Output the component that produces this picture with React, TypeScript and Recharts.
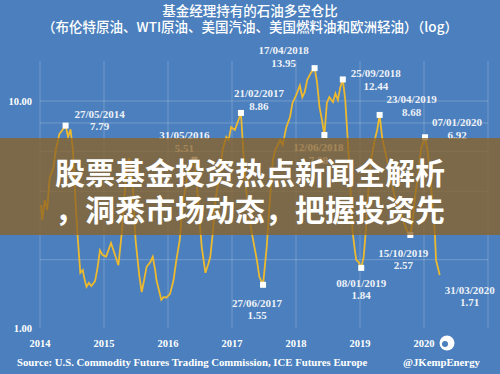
import React from 'react';
import { LineChart, Line, XAxis, YAxis, CartesianGrid, ReferenceLine } from 'recharts';

// weekly-ish readings of the managed money long/short ratio
const dates = [
  '2014-01-07', '2014-01-14', '2014-01-28', '2014-02-11', '2014-02-25', '2014-03-18', '2014-04-01', '2014-04-22',
  '2014-05-27', '2014-06-10', '2014-06-24', '2014-07-08', '2014-07-22', '2014-08-05', '2014-08-19', '2014-09-02',
  '2014-09-09', '2014-09-23', '2014-10-07', '2014-10-21', '2014-11-11', '2014-11-25', '2014-12-09', '2014-12-23',
  '2015-01-13', '2015-02-10', '2015-02-24', '2015-03-24', '2015-04-14', '2015-04-28', '2015-05-12', '2015-05-26',
  '2015-06-16', '2015-06-30', '2015-07-21', '2015-08-04', '2015-08-18', '2015-09-01', '2015-09-22', '2015-10-06',
  '2015-10-20', '2015-10-27', '2015-11-10', '2015-11-24', '2015-12-08', '2015-12-22', '2016-01-12', '2016-01-26',
  '2016-02-02', '2016-02-16', '2016-03-08', '2016-03-22', '2016-04-12', '2016-04-26', '2016-05-31', '2016-06-14',
  '2016-06-28', '2016-07-12', '2016-08-02', '2016-08-16', '2016-08-30', '2016-09-13', '2016-09-27', '2016-10-25',
  '2016-11-08', '2016-11-29', '2016-12-13', '2016-12-27', '2017-01-17', '2017-02-07', '2017-02-21', '2017-03-07',
  '2017-03-21', '2017-04-04', '2017-04-18', '2017-05-09', '2017-05-23', '2017-06-06', '2017-06-27', '2017-07-18',
  '2017-08-01', '2017-08-22', '2017-09-05', '2017-10-03', '2017-10-17', '2017-11-07', '2017-11-28', '2017-12-12',
  '2018-01-02', '2018-01-23', '2018-02-06', '2018-02-20', '2018-03-06', '2018-03-27', '2018-04-17', '2018-05-01',
  '2018-05-15', '2018-05-29', '2018-06-12', '2018-06-26', '2018-07-10', '2018-07-31', '2018-08-14', '2018-08-28',
  '2018-09-11', '2018-09-25', '2018-10-09', '2018-10-16', '2018-10-30', '2018-11-13', '2018-11-20', '2018-12-04',
  '2018-12-11', '2018-12-24', '2019-01-08', '2019-01-22', '2019-02-05', '2019-02-19', '2019-03-05', '2019-03-26',
  '2019-04-09', '2019-04-23', '2019-05-07', '2019-05-14', '2019-06-04', '2019-06-18', '2019-07-02', '2019-07-16',
  '2019-07-30', '2019-08-20', '2019-09-03', '2019-09-24', '2019-10-15', '2019-10-29', '2019-11-12', '2019-11-26',
  '2019-12-17', '2020-01-07', '2020-01-21', '2020-02-11', '2020-03-03', '2020-03-10', '2020-03-31',
];

const ratio = [
  3.48, 2.99, 3.66, 3.31, 4.58, 5.07, 6.08, 7.16,
  7.79, 6.94, 7.5, 6.08, 3.66, 2.44, 1.75, 1.8,
  1.68, 1.52, 1.58, 1.53, 1.61, 1.84, 2.2, 2.1,
  2.06, 2.37, 2.2, 1.89, 2.7, 3.85, 5.22, 5.6,
  4.05, 2.44, 1.71, 1.44, 1.63, 1.86, 1.95, 2.06,
  1.8, 1.63, 1.47, 1.33, 1.37, 1.36, 1.41, 1.55,
  1.63, 1.95, 2.44, 3.31, 4.27, 4.97, 5.51, 4.27,
  3.08, 2.27, 1.75, 1.89, 2.06, 2.62, 3.6, 5.0,
  6.08, 6.94, 6.73, 7.67, 7.45, 8.25, 8.86, 5.9,
  4.18, 3.31, 2.79, 2.27, 1.99, 1.68, 1.55, 2.27,
  3.31, 5.5, 6.08, 6.73, 6.4, 7.67, 8.5, 9.8,
  10.6, 11.7, 10.4, 10.96, 12.4, 13.3, 13.95, 12.1,
  9.41, 8.25, 7.08, 9.8, 10.4, 9.9, 10.8, 10.1,
  11.5, 12.44, 10.1, 8.25, 5.5, 3.41, 2.65, 2.16,
  1.99, 1.95, 1.84, 2.06, 2.79, 4.18, 5.5, 6.73,
  7.45, 8.68, 6.94, 6.52, 5.5, 4.97, 4.35, 3.85,
  3.55, 3.31, 2.99, 2.7, 2.57, 2.99, 3.85, 4.63,
  6.26, 6.92, 6.08, 4.18, 2.62, 1.99, 1.71,
];

const yearTicks = [2014, 2015, 2016, 2017, 2018, 2019, 2020];
const yTicks = [1, 10];
const gridValues = [2, 4, 6, 8, 10];

// annotated points: [dx, dy line1, dy line2] from the point to the label centre
const labelOffset: Record<string, number[]> = {
  '2014-05-27': [34, -12, 0],
  '2016-05-31': [-10, -25, -12],
  '2017-02-21': [18, -20, -7],
  '2017-06-27': [-6, 18, 30],
  '2018-04-17': [-31, -18, -5],
  '2018-06-12': [-6, 12, 25],
  '2018-09-25': [33, -6, 7],
  '2019-01-08': [0, 15, 27],
  '2019-04-23': [32, -16, -3],
  '2019-10-15': [-7, 18, 30],
  '2020-01-07': [32, -15, -2],
  '2020-03-31': [30, 15, 27],
};
const noSquare = ['2020-03-31'];

const toYear = (d: string) => {
  const [y, m, dd] = d.split('-').map(Number);
  const start = Date.UTC(y, 0, 1);
  const end = Date.UTC(y + 1, 0, 1);
  return y + (Date.UTC(y, m - 1, dd) - start) / (end - start);
};
const fmtDate = (d: string) => d.split('-').reverse().join('/');

const data = dates.map((d, i) => ({ date: d, t: toYear(d), v: ratio[i] }));

const BG = '#4b7fbd';
const GOLD = '#edb92e';
const SERIF = '"Liberation Serif", "Times New Roman", serif';
const CJK = '"Noto Sans CJK SC", "Noto Sans", sans-serif';

const labelStyle = { fill: '#eef2f8', fontFamily: SERIF, fontWeight: 700, fontSize: 11 };

const renderDot = (p: any) => {
  const d = p.payload.date;
  const off = labelOffset[d];
  if (!off) return <g key={p.index} />;
  const [dx, dy1, dy2] = off;
  return (
    <g key={p.index}>
      {!noSquare.includes(d) && (
        <rect x={p.cx - 3} y={p.cy - 3} width={6} height={6} fill="#ffffff" />
      )}
      <text x={p.cx + dx} y={p.cy + dy1} textAnchor="middle" dominantBaseline="central" {...labelStyle}>
        {fmtDate(d)}
      </text>
      <text x={p.cx + dx} y={p.cy + dy2} textAnchor="middle" dominantBaseline="central" {...labelStyle}>
        {p.payload.v.toFixed(2)}
      </text>
    </g>
  );
};

export default function App() {
  return (
    <div style={{ position: 'relative', width: 500, height: 374, background: BG, overflow: 'hidden' }}>
      <style>{'body{margin:0}'}</style>

      <div style={{ position: 'absolute', top: 1, left: 0, width: 500, textAlign: 'center', color: '#fff', fontFamily: CJK, fontWeight: 500, fontSize: 13.5, lineHeight: '18px' }}>
        基金经理持有的石油多空仓比
      </div>
      <div style={{ position: 'absolute', top: 17, left: 0, width: 500, textAlign: 'center', color: '#fff', fontFamily: CJK, fontWeight: 500, fontSize: 13.5, lineHeight: '18px' }}>
        （布伦特原油、WTI原油、美国汽油、美国燃料油和欧洲轻油）（log）
      </div>

      <LineChart
        width={500}
        height={374}
        data={data}
        margin={{ top: 61, right: 12, bottom: 0, left: 0 }}
        style={{ position: 'absolute', top: 0, left: 0 }}
      >
        <CartesianGrid horizontal={false} stroke="rgba(255,255,255,0.22)" strokeWidth={1} />
        {gridValues.map((g) => (
          <ReferenceLine key={g} y={g} stroke="rgba(255,255,255,0.22)" strokeWidth={1} />
        ))}
        <XAxis
          dataKey="t"
          type="number"
          domain={[2014, 2021]}
          ticks={yearTicks}
          tickFormatter={(v) => String(v)}
          axisLine={false}
          tickLine={false}
          tickMargin={6}
          height={46}
          tick={{ fill: '#ffffff', fontFamily: SERIF, fontWeight: 700, fontSize: 10.5 }}
        />
        <YAxis
          type="number"
          scale="log"
          domain={[1, 15]}
          ticks={yTicks}
          tickFormatter={(v) => Number(v).toFixed(2)}
          axisLine={false}
          tickLine={false}
          width={40}
          tick={{ fill: '#ffffff', fontFamily: SERIF, fontWeight: 700, fontSize: 10.5 }}
        />
        <Line
          dataKey="v"
          type="linear"
          stroke={GOLD}
          strokeWidth={1.8}
          dot={renderDot}
          activeDot={false}
          isAnimationActive={false}
        />
      </LineChart>

      {/* headline banner laid over the chart */}
      <div style={{ position: 'absolute', top: 138, left: 0, width: 500, height: 97, background: 'rgba(140,98,35,0.75)' }} />
      <div style={{ position: 'absolute', top: 153, left: 0, width: 500, textAlign: 'center', color: '#fff', fontFamily: CJK, fontWeight: 700, fontSize: 30, lineHeight: '37px' }}>
        股票基金投资热点新闻全解析<br />，洞悉市场动态，把握投资先
      </div>

      <div style={{ position: 'absolute', top: 355, left: 17, color: '#fff', fontFamily: SERIF, fontWeight: 700, fontSize: 10.75, lineHeight: '15px', whiteSpace: 'nowrap' }}>
        Source: U.S. Commodity Futures Trading Commission, ICE Futures Europe
      </div>
      <div style={{ position: 'absolute', top: 355, left: 403, color: '#fff', fontFamily: SERIF, fontWeight: 700, fontSize: 10.75, lineHeight: '15px', whiteSpace: 'nowrap' }}>
        @JKempEnergy
      </div>
      <svg width={60} height={20} style={{ position: 'absolute', top: 334, left: 438 }}>
        <circle cx={9} cy={9} r={7.5} fill="#ffffff" />
        <circle cx={7} cy={10} r={3} fill={BG} />
      </svg>
    </div>
  );
}
